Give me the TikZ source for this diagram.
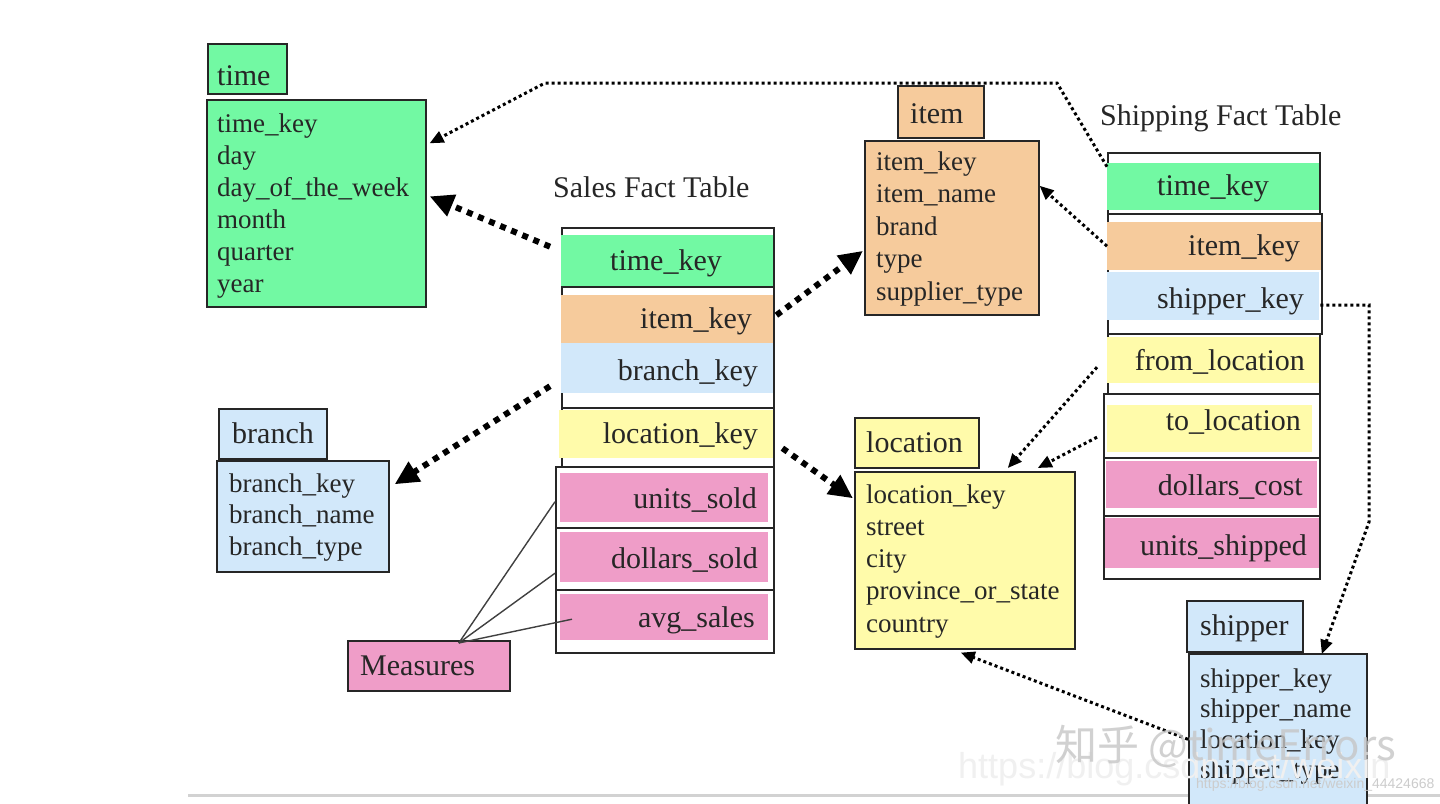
\documentclass[tikz,border=0pt]{standalone}
\usepackage{fontspec}
\setmainfont{Liberation Serif}
\newfontfamily\cjkf{Noto Sans CJK SC}
\newfontfamily\wmsans{Liberation Sans}
\usetikzlibrary{arrows.meta,calc}
\definecolor{cgreen}{RGB}{114,249,163}
\definecolor{cpeach}{RGB}{246,203,156}
\definecolor{cblue}{RGB}{210,232,250}
\definecolor{cyellow}{RGB}{255,251,170}
\definecolor{cpink}{RGB}{239,157,200}
\newcommand\rbx[6]{\node[#2,anchor=north west,inner sep=0pt,minimum width={#5-#3},minimum height={#6-#4}] (#1) at (#3,#4) {};}
\tikzset{
  frame/.style={draw=black!85,line width=1.6pt,fill=white},
  dimbox/.style={draw=black!85,line width=1.6pt},
  bar/.style={draw=none},
  lt/.style={inner sep=0pt,font=\fontsize{27}{32}\selectfont,text=black!85},
  tt/.style={inner sep=0pt,font=\fontsize{30}{34}\selectfont,text=black!85},
  thickdot/.style={line width=6pt,dash pattern=on 6pt off 6pt,-{Triangle[length=24pt,width=22pt]}},
  thindot/.style={line width=3pt,dash pattern=on 3pt off 3pt,-{Triangle[length=14pt,width=12pt]}},
  mline/.style={line width=1.4pt,black!75},
}
\begin{document}
\begin{tikzpicture}[x=1pt,y=-1pt]
\useasboundingbox (0,0) rectangle (1440,803);
\fill[white] (0,0) rectangle (1440,803);
\draw[gray!35,line width=3pt] (188,795) -- (1440,795);

% ---- time dimension
\rbx{ttitle}{dimbox,fill=cgreen}{207}{43}{286}{93}
\rbx{tbox}{dimbox,fill=cgreen}{206}{99}{425}{306}
\node[tt,anchor=base west] (ttitlet) at (217,85) {time};
\foreach \t [count=\i] in {time\_key,day,day\_of\_the\_week,month,quarter,year}
  \node[lt,anchor=base west] (tl\i) at (217,{132+32*(\i-1)}) {\t};

% ---- item dimension
\rbx{ititle}{dimbox,fill=cpeach}{897}{85}{983}{137}
\rbx{ibox}{dimbox,fill=cpeach}{864}{140}{1038}{314}
\node[tt,anchor=base west] (ititlet) at (910,123) {item};
\foreach \t [count=\i] in {item\_key,item\_name,brand,type,supplier\_type}
  \node[lt,anchor=base west] (il\i) at (876,{170+32.5*(\i-1)}) {\t};

% ---- branch dimension
\rbx{btitle}{dimbox,fill=cblue}{218}{408}{326}{458}
\rbx{bbox}{dimbox,fill=cblue}{216}{460}{388}{571}
\node[tt,anchor=base west] (btitlet) at (232,443) {branch};
\foreach \t [count=\i] in {branch\_key,branch\_name,branch\_type}
  \node[lt,anchor=base west] (bl\i) at (229,{492+31.5*(\i-1)}) {\t};

% ---- location dimension
\rbx{ltitle}{dimbox,fill=cyellow}{854}{417}{978}{467}
\rbx{lbox}{dimbox,fill=cyellow}{854}{471}{1074}{648}
\node[tt,anchor=base west] (ltitlet) at (866,452) {location};
\foreach \t [count=\i] in {location\_key,street,city,province\_or\_state,country}
  \node[lt,anchor=base west] (ll\i) at (866,{503+32.25*(\i-1)}) {\t};

% ---- shipper dimension
\rbx{stitle}{dimbox,fill=cblue}{1186}{600}{1302}{651}
\rbx{sbox}{dimbox,fill=cblue}{1188}{653}{1366}{808}
\node[tt,anchor=base west] (stitlet) at (1200,635) {shipper};
\foreach \t [count=\i] in {shipper\_key,shipper\_name,location\_key,shipper\_type}
  \node[lt,anchor=base west] (sl\i) at (1200,{687+30.5*(\i-1)}) {\t};

% ---- measures
\rbx{mbox}{dimbox,fill=cpink}{347}{640}{509}{690}
\node[tt,anchor=base west] (mboxt) at (360,675) {Measures};

% ---- sales fact table
\node[tt,anchor=base west] (salest) at (553,197) {Sales Fact Table};
\rbx{sfa}{frame}{561}{227}{773}{286}
\rbx{sfb}{frame}{561}{286}{773}{407}
\rbx{sfc}{frame}{561}{407}{773}{466}
\rbx{sfd1}{frame}{555}{466}{773}{527}
\rbx{sfd2}{frame}{555}{527}{773}{589}
\rbx{sfd3}{frame}{555}{589}{773}{652}
\rbx{stime}{bar,fill=cgreen}{561}{235}{773}{286}
\rbx{sitem}{bar,fill=cpeach}{561}{295}{773}{343}
\rbx{sbranch}{bar,fill=cblue}{561}{343}{773}{393}
\rbx{sloc}{bar,fill=cyellow}{559}{410}{773}{458}
\rbx{su}{bar,fill=cpink}{560}{473}{768}{522}
\rbx{sd}{bar,fill=cpink}{560}{532}{768}{582}
\rbx{sa}{bar,fill=cpink}{560}{594}{768}{640}
\node[tt,anchor=base] (stimet) at (666,270) {time\_key};
\node[tt,anchor=base east] (sitemt) at (752,328) {item\_key};
\node[tt,anchor=base east] (sbrancht) at (758,380) {branch\_key};
\node[tt,anchor=base east] (sloct) at (758,443) {location\_key};
\node[tt,anchor=base east] (sut) at (757,508) {units\_sold};
\node[tt,anchor=base east] (sdt) at (758,568) {dollars\_sold};
\node[tt,anchor=base east] (sat) at (755,627) {avg\_sales};

% ---- shipping fact table
\node[tt,anchor=base west] (shipt) at (1100,125) {Shipping Fact Table};
\rbx{hfa}{frame}{1107}{152}{1319}{213}
\rbx{hfb}{frame}{1107}{213}{1321}{333}
\rbx{hfc}{frame}{1107}{333}{1319}{393}
\rbx{hfd1}{frame}{1103}{393}{1319}{457}
\rbx{hfd2}{frame}{1103}{457}{1319}{515}
\rbx{hfd3}{frame}{1103}{515}{1319}{578}
\rbx{shtime}{bar,fill=cgreen}{1107}{163}{1319}{210}
\rbx{shitem}{bar,fill=cpeach}{1107}{222}{1321}{270}
\rbx{shship}{bar,fill=cblue}{1107}{272}{1319}{320}
\rbx{shfrom}{bar,fill=cyellow}{1107}{337}{1319}{383}
\rbx{shto}{bar,fill=cyellow}{1107}{405}{1312}{452}
\rbx{shdc}{bar,fill=cpink}{1106}{461}{1317}{508}
\rbx{shus}{bar,fill=cpink}{1105}{518}{1319}{568}
\node[tt,anchor=base] (shtimet) at (1213,195) {time\_key};
\node[tt,anchor=base east] (shitemt) at (1300,255) {item\_key};
\node[tt,anchor=base east] (shshipt) at (1304,308) {shipper\_key};
\node[tt,anchor=base east] (shfromt) at (1305,370) {from\_location};
\node[tt,anchor=base east] (shtot) at (1301,430) {to\_location};
\node[tt,anchor=base east] (shdct) at (1303,495) {dollars\_cost};
\node[tt,anchor=base east] (shust) at (1307,555) {units\_shipped};

% ---- connectors from sales fact table
\draw[thickdot] ($(stime.west)+(-11,-14)$) -- ($(tbox.east)+(3,-7)$);
\draw[thickdot] ($(sitem.east)+(3,-4)$) -- ($(ibox.west)+(-1,23)$);
\draw[thickdot] ($(sbranch.west)+(-11,18)$) -- ($(bbox.east)+(5,-32)$);
\draw[thickdot] ($(sloc.east)+(9,14)$) -- ($(lbox.west)+(-1,-62)$);

% ---- connectors from shipping fact table
\coordinate (c1) at (1057,83);
\coordinate (c2) at (545,83);
\draw[thindot] ($(shtime.west)+(0,-20)$) -- (c1) -- (c2) -- ($(tbox.east)+(3,-60)$);
\draw[thindot] (shitem.west) -- ($(ibox.east)+(0,-42)$);
\coordinate (c3) at (1369,305);
\coordinate (c4) at (1369,522);
\draw[thindot] ($(shship.east)+(1,9)$) -- (c3) -- (c4) -- ($(sbox.north)+(44,1)$);
\draw[thindot] ($(shfrom.west)+(-10,7)$) -- ($(lbox.north)+(43,-3)$);
\draw[thindot] ($(shto.west)+(-10,8.5)$) -- ($(lbox.north)+(73,-3)$);
\draw[thindot] ($(sbox.west)+(0,8)$) -- ($(lbox.south)+(-4,3)$);

% ---- measures lines
\draw[mline] ($(mbox.north)+(30,3)$) -- ($(su.west)+(-5,4)$);
\draw[mline] ($(mbox.north)+(30,3)$) -- ($(sd.west)+(-5,16)$);
\draw[mline] ($(mbox.north)+(30,3)$) -- ($(sa.west)+(12,2)$);

% ---- watermarks
\node[inner sep=0pt,anchor=base west,text=gray!12,font=\wmsans\fontsize{36}{40}\selectfont] (wm2) at (958,778) {https://blog.csdn.net/weixin};
\node[inner sep=0pt,anchor=base west,text=gray!45,opacity=0.8,font=\cjkf\fontsize{42}{46}\selectfont] (wm1) at (1055,760) {知乎 @timeErrors};
\node[inner sep=0pt,anchor=base west,text=gray!40,font=\wmsans\fontsize{14}{16}\selectfont] (wm3) at (1196,788) {https://blog.csdn.net/weixin\_44424668};
\end{tikzpicture}
\end{document}
